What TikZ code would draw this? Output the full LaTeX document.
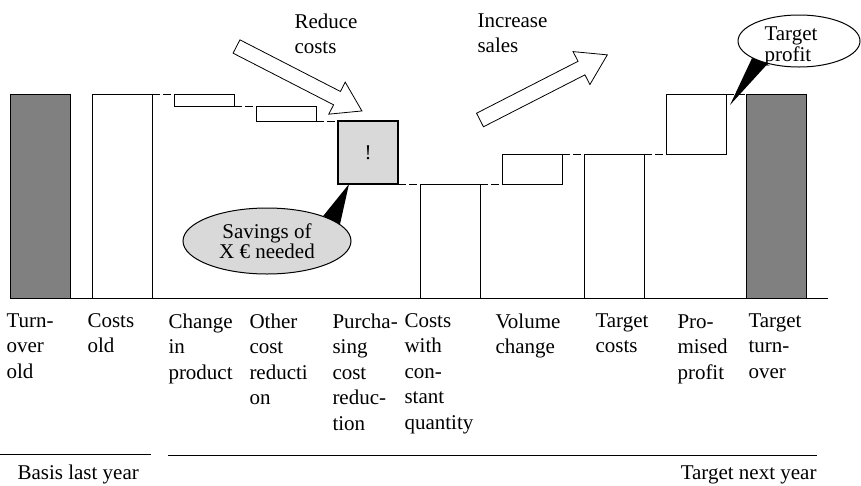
\documentclass[tikz,border=0pt]{standalone}
\usepackage{fontspec}
\setmainfont{Liberation Serif}
\usetikzlibrary{shapes,positioning}

\begin{document}
\begin{tikzpicture}[x=1pt,y=-1pt,line width=1pt,
  bar/.style={draw,fill=white,minimum width=60pt,inner sep=0pt,outer sep=0pt,anchor=north west},
  dark bar/.style={bar,fill=black!50},
  gap/.style={dash pattern=on 8pt off 3pt},
  col label/.style={anchor=north west,align=left,inner sep=0pt,font=\fontsize{21}{25.5}\selectfont},
  block arrow/.style={draw,fill=white,line width=0.8pt,line join=miter},
  bubble/.style={draw,ellipse,inner sep=0pt,align=center}]
  \useasboundingbox (0,0) rectangle (861,485);

  % bars
  \node[dark bar, minimum height=204pt] (turnold) at (10,94) {};
  \node[bar, minimum height=204pt] (costsold) at (92,94) {};
  \node[bar, minimum height=12pt] (product) at (174,94) {};
  \node[bar, minimum height=15pt] (other) at (256,106) {};
  \node[bar, minimum height=63pt, fill=black!15, line width=2.2pt, font=\fontsize{21}{21}\selectfont] (purch) at (338,121) {!};
  \node[bar, minimum height=114pt] (constq) at (420,184) {};
  \node[bar, minimum height=30pt] (volume) at (502,154) {};
  \node[bar, minimum height=144pt] (tcosts) at (584,154) {};
  \node[bar, minimum height=60pt] (profit) at (666,94) {};
  \node[dark bar, minimum height=204pt] (tturn) at (746,94) {};
  \coordinate (axisend) at (828,298);
  \draw (turnold.south west) -- (axisend);

  % steps
  \draw[gap] (costsold.north east) -- (product.north west);
  \draw[gap] (product.south east) -- (other.north west);
  \draw[gap] (other.south east) -- (purch.north west);
  \draw[gap] (purch.south east) -- (constq.north west);
  \draw[gap] (constq.north east) -- (volume.south west);
  \draw[gap] (volume.north east) -- (tcosts.north west);
  \draw[gap] (tcosts.north east) -- (profit.south west);
  \draw[gap] (profit.north east) -- (tturn.north west);

  % big arrows
  \draw[block arrow, shift={(236.5,46.5)}, rotate=-27.2] (0,-7.5) -- (113,-7.5) -- (113,-18) -- (141,0) -- (113,18) -- (113,7.5) -- (0,7.5) -- cycle;
  \draw[block arrow, shift={(480,120)}, rotate=27.1] (0,-7.6) -- (114,-7.6) -- (114,-18.5) -- (143,0) -- (114,18.5) -- (114,7.6) -- (0,7.6) -- cycle;
  \node[col label] (reduce) at (294,13) {Reduce\\costs};
  \node[col label] (increase) at (477,13) {Increase\\sales};

  % callouts
  \node[bubble, fill=black!15, minimum width=168pt, minimum height=66pt, font=\fontsize{21}{20}\selectfont] (savings) at (267,241) {Savings of\\X € needed};
  \fill ([xshift=11pt]purch.south west) -- (savings.24) -- (savings.13) -- cycle;
  \node[bubble, fill=white, minimum width=122pt, minimum height=52pt] (tprofit) at (799,41) {};
  \node[inner sep=0pt, align=left, font=\fontsize{21}{21}\selectfont] (tprofittext) at (791,46) {Target\\profit};
  \coordinate (tip) at (730,105);
  \fill (tip) -- (tprofit.200) -- (tprofit.216) -- cycle;

  % labels
  \node[col label] (l1) at (6,313) {Turn-\\over\\old};
  \node[col label] (l2) at (87,313) {Costs\\old};
  \node[col label] (l3) at (168,313) {Change\\in\\product};
  \node[col label] (l4) at (249,313) {Other\\cost\\reducti\\on};
  \node[col label] (l5) at (332,313) {Purcha-\\sing\\cost\\reduc-\\tion};
  \node[col label] (l6) at (404,313) {Costs\\with\\con-\\stant\\quantity};
  \node[col label] (l7) at (495,313) {Volume\\change};
  \node[col label] (l8) at (595,313) {Target\\costs};
  \node[col label] (l9) at (677,314) {Pro-\\mised\\profit};
  \node[col label] (l10) at (748,313) {Target\\turn-\\over};

  % periods
  \draw (0,454) -- (151,454);
  \draw (168,455) -- (817,455);
  \node[anchor=base west, inner sep=0pt, font=\fontsize{21}{25.5}\selectfont] (basis) at (17,479) {Basis last year};
  \node[anchor=base east, inner sep=0pt, font=\fontsize{21}{25.5}\selectfont] (target) at (817,479) {Target next year};
\end{tikzpicture}
\end{document}
